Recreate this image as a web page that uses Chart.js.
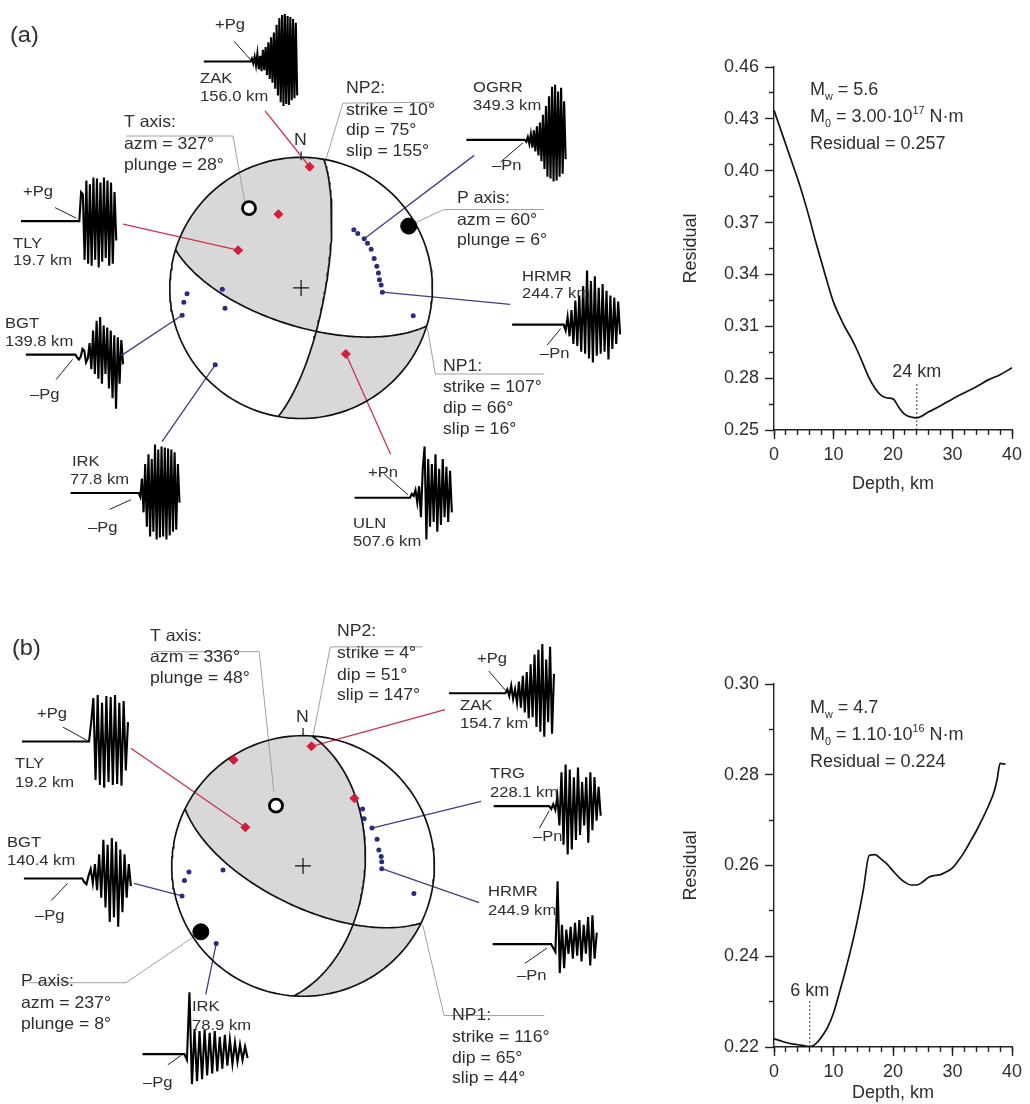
<!DOCTYPE html>
<html>
<head>
<meta charset="utf-8">
<title>Focal mechanisms and residual vs depth</title>
<script src="https://cdn.jsdelivr.net/npm/chart.js@4.4.1/dist/chart.umd.min.js"></script>
<style>
  html, body { margin: 0; padding: 0; background: #fff; }
  #page { position: relative; width: 1030px; height: 1104px; overflow: hidden; }
  canvas { position: absolute; }
</style>
</head>
<body>
<div id="page">
  <canvas id="ballA" width="680" height="570" style="left:0px;top:0px"></canvas>
  <canvas id="ballB" width="680" height="534" style="left:0px;top:570px"></canvas>
  <canvas id="residC" width="350" height="455" style="left:680px;top:40px"></canvas>
  <canvas id="residD" width="350" height="454" style="left:680px;top:650px"></canvas>
</div>
<script>
const FONT = '"Liberation Sans", Arial, Helvetica, sans-serif';
const INK = '#2e2e2e';
const RED = '#d21d3b';
const RED_LINE = '#c8344a';
const BLUE = '#2c2c7e';
const BLUE_LINE = '#3f3f82';
const D2R = Math.PI / 180;

// ---- (c) residual vs depth, event 1 ----
const depthC = [0, 1, 2, 3, 4, 5, 6, 7, 8, 9, 10, 11, 12, 13, 14, 15, 16, 17, 18, 19, 20, 21, 22, 23, 24, 26, 28, 30, 32, 34, 36, 38, 40];
const residC = [0.435, 0.425, 0.415, 0.405, 0.395, 0.384, 0.372, 0.359, 0.347, 0.335, 0.324, 0.316, 0.309, 0.303, 0.296, 0.288, 0.280, 0.274, 0.270, 0.2685, 0.268, 0.263, 0.259, 0.2575, 0.257, 0.2605, 0.264, 0.268, 0.2715, 0.275, 0.279, 0.282, 0.286];
const yRangeC = [0.25, 0.46];
const yTicksC = [0.25, 0.28, 0.31, 0.34, 0.37, 0.40, 0.43, 0.46];
const yMinorC = [0.265, 0.295, 0.325, 0.355, 0.385, 0.415, 0.445];
const bestDepthC = 24;
const sourceC = [5.6, '3.00', 17, 0.257];   // Mw, M0 mantissa, M0 exponent, residual

// ---- (d) residual vs depth, event 2 ----
const depthD = [0, 1, 2, 3, 4, 5, 6, 7, 8, 9, 10, 11, 12, 13, 14, 15, 16, 17, 18, 19, 20, 21, 22, 23, 24, 25, 26, 27, 28, 29, 30, 31, 32, 33, 34, 35, 36, 37, 37.5, 38, 38.9];
const residD = [0.2218, 0.2214, 0.2210, 0.2207, 0.2205, 0.2203, 0.2201, 0.2207, 0.2222, 0.2243, 0.2275, 0.2320, 0.2368, 0.2420, 0.2478, 0.2545, 0.2622, 0.2624, 0.2614, 0.2603, 0.2588, 0.2574, 0.2563, 0.2557, 0.2557, 0.2564, 0.2574, 0.2578, 0.2580, 0.2586, 0.2595, 0.2611, 0.2630, 0.2653, 0.2676, 0.2702, 0.2730, 0.2763, 0.2790, 0.2825, 0.2823];
const yRangeD = [0.22, 0.30];
const yTicksD = [0.22, 0.24, 0.26, 0.28, 0.30];
const yMinorD = [0.23, 0.25, 0.27, 0.29];
const bestDepthD = 6;
const sourceD = [4.7, '1.10', 16, 0.224];

const depthTicks = [0, 10, 20, 30, 40];
const depthMinor = [0, 2, 4, 6, 8, 10, 12, 14, 16, 18, 20, 22, 24, 26, 28, 30, 32, 34, 36, 38, 40];

// ---- (a) focal mechanism, event 1 ----
const np1A = [107, 66, 16];     // strike, dip, slip
const np2A = [10, 75, 155];
const tAxisA = [327, 28];       // azimuth, plunge
const pAxisA = [60, 6];
// station polarities: [azimuth, radius on the equal-area net]
const compA = [[4, 0.93], [343, 0.59], [301, 0.56], [146, 0.61]];
const dilA = [[42, 0.60], [46, 0.60], [52, 0.61], [56, 0.61], [61, 0.61], [68, 0.60], [74, 0.60], [79, 0.60], [84, 0.60], [88, 0.61], [93, 0.62], [104, 0.88], [267, 0.87], [263, 0.90], [257, 0.93], [269, 0.60], [255, 0.60], [228, 0.88]];

// ---- (b) focal mechanism, event 2 ----
const np1B = [116, 65, 44];
const np2B = [4, 51, 147];
const tAxisB = [336, 48];
const pAxisB = [237, 8];
const compB = [[327, 0.97], [4, 0.92], [37, 0.65], [304, 0.53]];
const dilB = [[46, 0.63], [52, 0.59], [61, 0.60], [70, 0.60], [78, 0.59], [83, 0.60], [87, 0.60], [92, 0.60], [104, 0.87], [267, 0.87], [263, 0.91], [256, 0.95], [267, 0.61], [228, 0.89]];

// ---- waveform amplitudes after the onset (px, up positive) ----
const wfZakA  = [0, 3, -2, 5, -4, 8, -8, 6, -10, 12, -9, 15, -14, 20, -18, 25, -22, 30, -28, 38, -35, 45, -42, 48, -46, 49, -44, 47, -45, 46, -40, 44, -38, 40, -35];
const wfTlyA  = [0, 30, 28, -40, 42, -44, 38, -46, 45, -40, 44, -48, 40, -42, 45, -38, 42, -46, 40, -44, 30, -20];
const wfOgrr  = [0, -2, 3, -4, 6, -8, 10, -12, 14, -16, 18, -22, 26, -30, 35, -38, 45, -40, 55, -43, 57, -42, 50, -38, 54, -35, 40, -20];
const wfHrmrA = [0, -6, 8, -12, 15, -20, 25, -22, 30, -28, 40, -30, 56, -35, 45, -39, 50, -32, 38, -30, 42, -28, 35, -36, 30, -25, 28, -20, 24, -10];
const wfUln   = [0, 4, 2, 8, -5, 12, -20, 30, 53, -43, 40, -30, 35, -25, 45, -35, 30, -28, 40, -20, 32, -25, 28, -15];
const wfBgtA  = [0, -3, -5, -2, 6, 4, -8, -4, 12, -15, 25, -20, 35, -25, 39, -30, 30, -20, 28, -35, 25, -45, 20, -56, 18, -30, 15, -10];
const wfIrkA  = [0, -4, 15, -20, 30, -35, 40, -45, 35, -40, 50, -48, 45, -46, 48, -45, 47, -48, 46, -44, 45, -40, 42, -38, 30, -10];
const wfTlyB  = [0, 20, 45, -40, 48, -45, 40, -48, 47, -42, 46, -45, 48, -44, 40, -46, 42, -30, 20];
const wfZakB  = [0, 4, -3, 8, -6, 4, -10, 12, -15, 18, -20, 22, -26, 30, -25, 40, -35, 45, -40, 51, -45, 35, -30, 48, -42, 20];
const wfTrg   = [0, -3, 2, -4, 10, -20, 35, -40, 43, -50, 38, -45, 30, -35, 40, -30, 25, -20, 30, -38, 35, -25, 30, -15, 20, -10];
const wfBgtB  = [0, -4, -6, 3, 10, -5, 15, -12, 25, -20, 40, -30, 35, -45, 42, -40, 38, -50, 30, -35, 25, -20, 15, -8];
const wfIrkB  = [0, -6, 64, -31, 26, -28, 24, -26, 25, -22, 22, -20, 24, -18, 18, -15, 20, -12, 15, -10, 12, -8, 10, -6, 8, -4];
const wfHrmrB = [0, -4, -8, 65, -30, 20, -25, 15, -10, 18, -15, 22, -12, 25, -18, 20, -10, 28, -22, 30, -15, 12];

// ---- layout of traces and labels (page pixels) ----
const tracesA = [
  {wave: wfZakA,  x0: 200, onset: 248, x1: 296, base: 54,  pick: [[231, 33], [248, 52]],  anchor: [263, 105], sta: ['c', 0]},
  {wave: wfTlyA,  x0: 12,  onset: 72,  x1: 110, base: 219, pick: [[47, 205], [69, 216]],  anchor: [117, 222], sta: ['c', 2]},
  {wave: wfOgrr,  x0: 470, onset: 530, x1: 572, base: 135, pick: [[505, 158], [528, 138]], anchor: [478, 151], sta: ['d', 2]},
  {wave: wfHrmrA, x0: 517, onset: 570, x1: 628, base: 326, pick: [[553, 347], [567, 330]], anchor: [515, 305], sta: ['d', 10]},
  {wave: wfUln,   x0: 355, onset: 412, x1: 455, base: 505, pick: [[385, 480], [410, 502]], anchor: [392, 460], sta: ['c', 3]},
  {wave: wfBgtA,  x0: 17,  onset: 68,  x1: 117, base: 357, pick: [[48, 383], [65, 362]],  anchor: [115, 358], sta: ['d', 14]},
  {wave: wfIrkA,  x0: 63,  onset: 133, x1: 175, base: 500, pick: [[103, 517], [125, 507]], anchor: [157, 447], sta: ['d', 17]}
];
const tracesB = [
  {wave: wfTlyB,  x0: 13,  onset: 82,  x1: 122, base: 738,  pick: [[55, 723], [80, 737]],   anchor: [125, 745], sta: ['c', 3]},
  {wave: wfZakB,  x0: 452, onset: 510, x1: 560, base: 688,  pick: [[493, 665], [510, 685]], anchor: [448, 705], sta: ['c', 1]},
  {wave: wfTrg,   x0: 498, onset: 555, x1: 608, base: 805,  pick: [[545, 828], [555, 810]], anchor: [485, 800], sta: ['d', 2]},
  {wave: wfHrmrB, x0: 497, onset: 557, x1: 604, base: 948,  pick: [[530, 968], [553, 952]], anchor: [483, 905], sta: ['d', 7]},
  {wave: wfBgtB,  x0: 15,  onset: 75,  x1: 125, base: 880,  pick: [[43, 903], [60, 885]],   anchor: [128, 885], sta: ['d', 11]},
  {wave: wfIrkB,  x0: 137, onset: 180, x1: 245, base: 1062, pick: [[163, 1073], [177, 1063]], anchor: [202, 1000], sta: ['d', 13]}
];

const textsA = [
  ['(a)', 10, 42, 22],
  ['+Pg', 215, 29], ['ZAK', 200, 83], ['156.0 km', 200, 101],
  ['T axis:', 124, 127, 16.5], ['azm = 327°', 124, 149, 16.5], ['plunge = 28°', 124, 170, 16.5],
  ['NP2:', 346, 93, 16.5], ['strike = 10°', 346, 115, 16.5], ['dip = 75°', 346, 135, 16.5], ['slip = 155°', 346, 156, 16.5],
  ['N', 294, 145, 16.5],
  ['OGRR', 473, 92], ['349.3 km', 473, 110], ['–Pn', 492, 170],
  ['P axis:', 457, 203, 16.5], ['azm = 60°', 457, 225, 16.5], ['plunge = 6°', 457, 245, 16.5],
  ['+Pg', 23, 196], ['TLY', 13, 248], ['19.7 km', 13, 265],
  ['HRMR', 522, 281], ['244.7 km', 522, 298], ['–Pn', 540, 358],
  ['BGT', 5, 328], ['139.8 km', 5, 346], ['–Pg', 30, 399],
  ['NP1:', 443, 371, 16.5], ['strike = 107°', 443, 392, 16.5], ['dip = 66°', 443, 413, 16.5], ['slip = 16°', 443, 434, 16.5],
  ['IRK', 72, 466], ['77.8 km', 70, 484], ['–Pg', 88, 532],
  ['+Pn', 368, 477], ['ULN', 353, 528], ['507.6 km', 353, 546]
];
const textsB = [
  ['(b)', 12, 655, 22],
  ['T axis:', 150, 641, 16.5], ['azm = 336°', 150, 662, 16.5], ['plunge = 48°', 150, 683, 16.5],
  ['NP2:', 337, 636, 16.5], ['strike = 4°', 337, 658, 16.5], ['dip = 51°', 337, 680, 16.5], ['slip = 147°', 337, 700, 16.5],
  ['N', 296, 722, 16.5],
  ['+Pg', 37, 718], ['TLY', 15, 768], ['19.2 km', 15, 787],
  ['+Pg', 477, 663], ['ZAK', 460, 710], ['154.7 km', 460, 728],
  ['TRG', 490, 778], ['228.1 km', 490, 797], ['–Pn', 533, 841],
  ['BGT', 7, 847], ['140.4 km', 7, 865], ['–Pg', 35, 920],
  ['HRMR', 488, 896], ['244.9 km', 488, 915], ['–Pn', 517, 980],
  ['P axis:', 21, 986, 16.5], ['azm = 237°', 21, 1008, 16.5], ['plunge = 8°', 21, 1029, 16.5],
  ['IRK', 192, 1011], ['78.9 km', 192, 1030], ['–Pg', 143, 1087],
  ['NP1:', 452, 1020, 16.5], ['strike = 116°', 452, 1042, 16.5], ['dip = 65°', 452, 1063, 16.5], ['slip = 44°', 452, 1083, 16.5]
];

// ---- helpers: lower-hemisphere equal-area projection ----
function projAz(az, r) {
  return {x: r * Math.sin(az * D2R), y: r * Math.cos(az * D2R)};
}
function axisPoint(trend, plunge) {
  return projAz(trend, Math.SQRT2 * Math.sin((90 - plunge) / 2 * D2R));
}
function planeCurve(strike, dip) {
  const pts = [];
  const f = strike * D2R, d = dip * D2R;
  for (let l = 0; l <= 180; l += 2) {
    const c = Math.cos(l * D2R), s = Math.sin(l * D2R);
    const n = c * Math.cos(f) + s * Math.cos(d) * Math.cos(f + Math.PI / 2);
    const e = c * Math.sin(f) + s * Math.cos(d) * Math.sin(f + Math.PI / 2);
    const down = Math.min(1, s * Math.sin(d));
    pts.push(axisPoint(Math.atan2(e, n) / D2R, Math.asin(down) / D2R));
  }
  return pts;
}

function drawBall(id, m) {
  const R = 135;
  const P = p => ({x: (p[0] - m.cx) / R, y: (m.cy - p[1]) / R});
  const line = (pts, color, width, order) => ({data: pts, showLine: true, pointRadius: 0, borderColor: color, borderWidth: width, order: order, tension: 0});
  const ds = [];

  ds.push({data: m.comp.map(s => projAz(s[0], s[1])), pointStyle: 'rectRot', pointRadius: 4.5, backgroundColor: RED, borderColor: RED, borderWidth: 1, order: 0});
  ds.push({data: m.dil.map(s => projAz(s[0], s[1])), pointStyle: 'circle', pointRadius: 2.5, backgroundColor: BLUE, borderColor: BLUE, borderWidth: 0, order: 0});
  ds.push({data: [axisPoint(m.tAxis[0], m.tAxis[1])], pointStyle: 'circle', pointRadius: 6.5, backgroundColor: '#fff', borderColor: '#000', borderWidth: 2.8, order: 0});
  ds.push({data: [axisPoint(m.pAxis[0], m.pAxis[1])], pointStyle: 'circle', pointRadius: 8, backgroundColor: '#000', borderColor: '#000', borderWidth: 1, order: 0});
  ds.push({data: [{x: 0, y: 0}], pointStyle: 'cross', pointRadius: 8, borderColor: '#111', borderWidth: 1.2, order: 0});

  const circ = [];
  for (let a = 0; a <= 360; a += 2) circ.push(projAz(a, 1));
  ds.push(line(circ, '#111', 1.7, 1));
  ds.push(line(planeCurve(m.np1[0], m.np1[1]), '#111', 1.7, 1));
  ds.push(line(planeCurve(m.np2[0], m.np2[1]), '#111', 1.7, 1));

  m.traces.forEach(t => {
    const isComp = t.sta[0] === 'c';
    const sta = isComp ? m.comp[t.sta[1]] : m.dil[t.sta[1]];
    ds.push(line([P(t.anchor), projAz(sta[0], sta[1])], isComp ? RED_LINE : BLUE_LINE, 1.3, 2));
    const pts = [P([t.x0, t.base]), P([t.onset, t.base])];
    const dx = (t.x1 - t.onset) / (t.wave.length - 1);
    t.wave.forEach((a, i) => pts.push(P([t.onset + i * dx, t.base - a])));
    ds.push(line(pts, '#000', 2.1, 2));
    ds.push(line(t.pick.map(P), '#222', 1, 2));
  });
  m.labelLines.forEach(l => ds.push(line(l.map(P), '#a0a0a0', 1, 3)));
  ds.push(line(m.north.map(P), '#111', 1.2, 3));

  // compressional quadrants: XOR of the two half-discs cut by the nodal planes
  const quadrants = {
    id: 'quadrants',
    beforeDatasetsDraw(chart) {
      const {ctx, scales: {x, y}} = chart;
      const px = p => [x.getPixelForValue(p.x), y.getPixelForValue(p.y)];
      const half = (plane, side) => {
        const pts = planeCurve(plane[0], plane[1]);
        for (let k = 1; k < 90; k++) pts.push(projAz(plane[0] + 180 + side * 2 * k, 1));
        return pts;
      };
      const build = sideA => {
        const path = new Path2D();
        [half(m.np1, sideA), half(m.np2, 1)].forEach(poly => {
          poly.forEach((p, i) => { const q = px(p); i ? path.lineTo(q[0], q[1]) : path.moveTo(q[0], q[1]); });
          path.closePath();
        });
        return path;
      };
      let path = build(1);
      const t = px(axisPoint(m.tAxis[0], m.tAxis[1]));
      if (!ctx.isPointInPath(path, t[0], t[1], 'evenodd')) path = build(-1);
      ctx.save();
      ctx.fillStyle = '#d8d8d8';
      ctx.fill(path, 'evenodd');
      ctx.restore();
    }
  };

  const labels = {
    id: 'labels',
    afterDatasetsDraw(chart) {
      const ctx = chart.ctx;
      ctx.save();
      ctx.fillStyle = INK;
      ctx.textBaseline = 'alphabetic';
      m.texts.forEach(t => {
        ctx.font = (t[3] || 15.5) + 'px ' + FONT;
        ctx.save();
        ctx.translate(t[1] - m.left, t[2] - m.top);
        ctx.scale(1.07, 1);
        ctx.fillText(t[0], 0, 0);
        ctx.restore();
      });
      ctx.restore();
    }
  };

  new Chart(document.getElementById(id), {
    type: 'scatter',
    data: {datasets: ds},
    options: {
      responsive: false, animation: false, events: [],
      layout: {padding: 0},
      plugins: {legend: {display: false}, tooltip: {enabled: false}},
      scales: {
        x: {type: 'linear', display: false, min: (m.left - m.cx) / R, max: (m.left + m.width - m.cx) / R},
        y: {type: 'linear', display: false, min: (m.cy - (m.top + m.height)) / R, max: (m.cy - m.top) / R}
      }
    },
    plugins: [quadrants, labels]
  });
}

function richText(ctx, parts, x, y, size) {
  let cx = x;
  parts.forEach(([t, kind]) => {
    const fs = kind ? size * 0.6 : size;
    const dy = kind === 'sub' ? size * 0.25 : kind === 'sup' ? -size * 0.45 : 0;
    ctx.font = fs + 'px ' + FONT;
    ctx.fillText(t, cx, y + dy);
    cx += ctx.measureText(t).width;
  });
}

function residualChart(id, cfg) {
  const pts = cfg.depth.map((d, i) => ({x: d, y: cfg.resid[i]}));
  const tickFont = {family: FONT, size: 18};
  const fixTicks = list => s => { s.ticks = list.map(v => ({value: v})); };
  const axisGrid = len => ({drawOnChartArea: false, drawTicks: true, tickLength: len, tickColor: '#222', tickWidth: 1.4, color: '#222'});
  const src = cfg.source;
  const info = [
    [['M', ''], ['w', 'sub'], [' = ' + src[0].toFixed(1), '']],
    [['M', ''], ['0', 'sub'], [' = ' + src[1] + '·10', ''], [String(src[2]), 'sup'], [' N·m', '']],
    [['Residual = ' + src[3].toFixed(3), '']]
  ];
  const notes = {
    id: 'notes',
    afterDatasetsDraw(chart) {
      const {ctx, chartArea, scales} = chart;
      ctx.save();
      ctx.fillStyle = INK;
      ctx.textBaseline = 'alphabetic';
      info.forEach((ln, i) => richText(ctx, ln, chartArea.left + 36, cfg.infoTop + i * 27, 18));
      ctx.font = '18px ' + FONT;
      ctx.textAlign = 'center';
      ctx.fillText(cfg.best + ' km', scales.x.getPixelForValue(cfg.best), scales.y.getPixelForValue(cfg.bestLabel));
      ctx.restore();
    }
  };
  new Chart(document.getElementById(id), {
    type: 'scatter',
    data: {datasets: [
      {data: pts, showLine: true, pointRadius: 0, borderColor: '#111', borderWidth: 1.7, cubicInterpolationMode: 'monotone', xAxisID: 'x', yAxisID: 'y'},
      {data: [{x: cfg.best, y: cfg.yRange[0]}, {x: cfg.best, y: cfg.bestTop}], showLine: true, pointRadius: 0, borderColor: '#444', borderWidth: 1, borderDash: [2, 2], xAxisID: 'x', yAxisID: 'y'}
    ]},
    options: {
      responsive: false, animation: false, events: [],
      layout: {padding: {top: cfg.padTop, right: 18, bottom: 0, left: 0}},
      plugins: {legend: {display: false}, tooltip: {enabled: false}},
      scales: {
        x: {type: 'linear', position: 'bottom', weight: 1, min: 0, max: 40,
            afterBuildTicks: fixTicks(depthTicks), afterFit: s => { s.height = cfg.xHeight; },
            grid: axisGrid(9), border: {display: true, color: '#222', width: 1.4},
            ticks: {color: INK, font: tickFont, padding: 5, maxRotation: 0, autoSkip: false},
            title: {display: true, text: 'Depth, km', color: INK, font: tickFont, padding: 0}},
        xMinor: {type: 'linear', position: 'bottom', weight: 0, min: 0, max: 40,
            afterBuildTicks: fixTicks(depthMinor), afterFit: s => { s.height = 0; },
            grid: axisGrid(5), border: {display: false}, ticks: {display: false}},
        y: {type: 'linear', position: 'left', weight: 1, min: cfg.yRange[0], max: cfg.yRange[1],
            afterBuildTicks: fixTicks(cfg.yTicks), afterFit: s => { s.width = 94; },
            grid: axisGrid(9), border: {display: true, color: '#222', width: 1.4},
            ticks: {color: INK, font: tickFont, padding: 6, autoSkip: false, callback: v => v.toFixed(2)},
            title: {display: true, text: 'Residual', color: INK, font: tickFont, padding: 0}},
        yMinor: {type: 'linear', position: 'left', weight: 0, min: cfg.yRange[0], max: cfg.yRange[1],
            afterBuildTicks: fixTicks(cfg.yMinor), afterFit: s => { s.width = 0; },
            grid: axisGrid(5), border: {display: false}, ticks: {display: false}}
      }
    },
    plugins: [notes]
  });
}

drawBall('ballA', {
  left: 0, top: 0, width: 680, height: 570, cx: 300, cy: 288,
  np1: np1A, np2: np2A, tAxis: tAxisA, pAxis: pAxisA, comp: compA, dil: dilA,
  traces: tracesA, texts: textsA,
  labelLines: [[[120, 131], [230, 131], [242, 199]], [[437, 96], [343, 97], [325, 157]], [[550, 207], [447, 207], [410, 224]], [[550, 377], [438, 377], [430, 330]]],
  north: [[300, 147], [300, 156]]
});
drawBall('ballB', {
  left: 0, top: 570, width: 680, height: 534, cx: 302, cy: 867,
  np1: np1B, np2: np2B, tAxis: tAxisB, pAxis: pAxisB, comp: compB, dil: dilB,
  traces: tracesB, texts: textsB,
  labelLines: [[[148, 645], [257, 645], [272, 790]], [[425, 640], [330, 640], [312, 734]], [[20, 988], [120, 988], [193, 938]], [[550, 1022], [447, 1022], [425, 928]]],
  north: [[302, 724], [302, 732]]
});
residualChart('residC', {depth: depthC, resid: residC, yRange: yRangeC, yTicks: yTicksC, yMinor: yMinorC,
  best: bestDepthC, bestTop: 0.2772, bestLabel: 0.2807, source: sourceC, padTop: 27, xHeight: 65, infoTop: 55});
residualChart('residD', {depth: depthD, resid: residD, yRange: yRangeD, yTicks: yTicksD, yMinor: yMinorD,
  best: bestDepthD, bestTop: 0.2302, bestLabel: 0.2312, source: sourceD, padTop: 34, xHeight: 57, infoTop: 63});
</script>
</body>
</html>
